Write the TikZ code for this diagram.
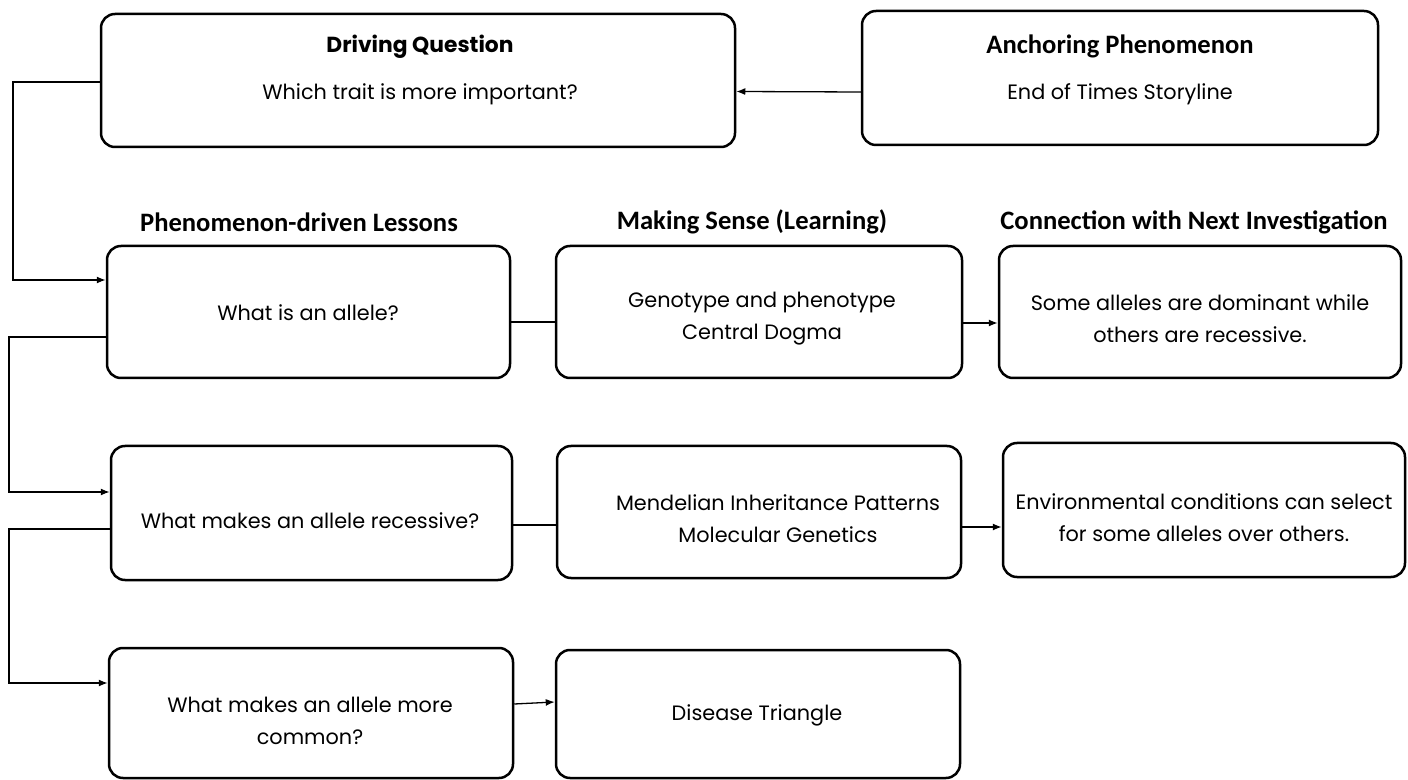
\documentclass[tikz,border=0pt]{standalone}
\usepackage{fontspec}
\setmainfont{Poppins}
\newfontfamily\hdrfont{Carlito}
\usetikzlibrary{arrows.meta}
\begin{document}
\begin{tikzpicture}[x=0.5pt,y=-0.5pt,
  box/.style={draw,line width=1.25pt,rounded corners=7pt,inner sep=0pt},
  body/.style={font=\fontsize{10.4}{16}\selectfont,align=center,inner sep=0pt},
  boxtitle/.style={font=\fontsize{10.9}{12}\selectfont\bfseries,inner sep=0pt},
  colhead/.style={font=\hdrfont\fontsize{13.3}{15}\selectfont\bfseries,inner sep=0pt},
  link/.style={line width=0.65pt},
  arrowlink/.style={link,-{Latex[length=4.5pt,width=3.5pt]}}]
\useasboundingbox (0,0) rectangle (1408,780);

% top row
\node[box,minimum width=317pt,minimum height=66.5pt] (dq) at (418,80.5) {};
\node[box,minimum width=258pt,minimum height=67pt] (an) at (1120,78) {};
\node[boxtitle] (dqh) at (420,47) {Driving Question};
\node[body] (dqb) at (420,94) {Which trait is more important?};
\node[colhead] (anh) at (1120,46) {Anchoring Phenomenon};
\node[body] (anb) at (1120,94) {End of Times Storyline};

% column headings
\node[colhead] (h1) at (299,222) {Phenomenon-driven Lessons};
\node[colhead] (h2) at (752,222) {Making Sense (Learning)};
\node[colhead] (h3) at (1194,222) {Connection with Next Investigation};

% row 1
\node[box,minimum width=201.5pt,minimum height=66pt] (l1) at (308.5,312) {};
\node[box,minimum width=203pt,minimum height=66pt] (m1) at (759,312) {};
\node[box,minimum width=201pt,minimum height=66pt] (n1) at (1200,312) {};
\node[body] (l1t) at (308,313) {What is an allele?};
\node[body] (m1t) at (762,319) {Genotype and phenotype\\Central Dogma};
\node[body] (n1t) at (1200,319) {Some alleles are dominant while\\others are recessive.};

% row 2
\node[box,minimum width=200.5pt,minimum height=67pt] (l2) at (311.5,513) {};
\node[box,minimum width=202pt,minimum height=66pt] (m2) at (759,512) {};
\node[box,minimum width=201pt,minimum height=67pt] (n2) at (1204,510) {};
\node[body] (l2t) at (310,521) {What makes an allele recessive?};
\node[body] (m2t) at (778,519) {Mendelian Inheritance Patterns\\Molecular Genetics};
\node[body] (n2t) at (1204,518) {Environmental conditions can select\\for some alleles over others.};

% row 3
\node[box,minimum width=202pt,minimum height=65pt] (l3) at (311,713) {};
\node[box,minimum width=202pt,minimum height=64pt] (m3) at (758,714) {};
\node[body] (l3t) at (310,721) {What makes an allele more\\common?};
\node[body] (m3t) at (757,715) {Disease Triangle};

% connectors
\draw[arrowlink] ([yshift=-7pt]an.west) -- ([yshift=-5.5pt]dq.east);
\draw[arrowlink] ([yshift=-0.75pt]dq.west) -- (13,82) |- ([yshift=16pt]l1.west);
\draw[arrowlink] ([yshift=-12.5pt]l1.west) -- (9,337) |- ([yshift=10.5pt]l2.west);
\draw[arrowlink] ([yshift=-8pt]l2.west) -- (9,529) |- ([yshift=15pt]l3.west);
\draw[link] ([yshift=-5pt]l1.east) -- ([yshift=-5pt]m1.east -| m1.west);
\draw[arrowlink] ([yshift=-5.5pt]m1.east) -- ([yshift=-5.5pt]m1.east -| n1.west);
\draw[link] ([yshift=-6pt]l2.east) -- ([yshift=-6.5pt]m2.west);
\draw[arrowlink] ([yshift=-7.5pt]m2.east) -- ([yshift=-8.5pt]n2.west);
\draw[arrowlink] ([yshift=4.5pt]l3.east) -- ([yshift=6pt]m3.west);
\end{tikzpicture}
\end{document}
